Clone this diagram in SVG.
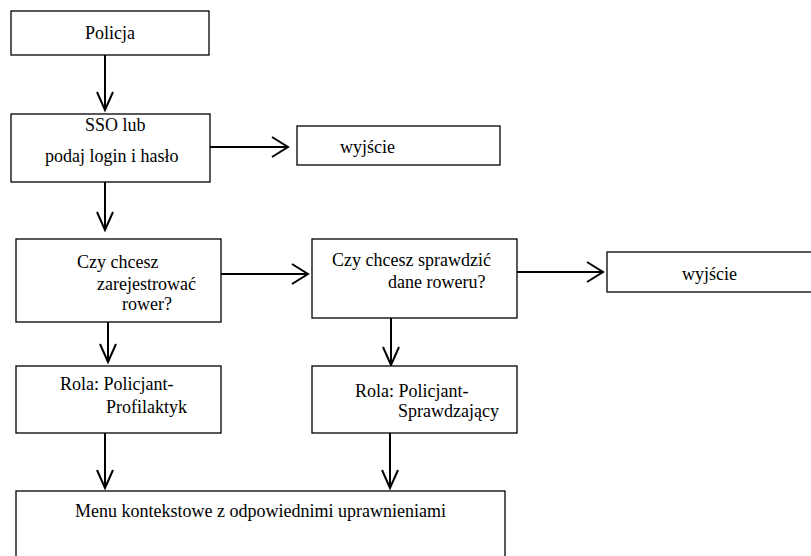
<svg xmlns="http://www.w3.org/2000/svg" width="811" height="556" viewBox="0 0 811 556">
<style>
.box{fill:#fff;stroke:#000;stroke-width:1.3}
.c{fill:none;stroke:#000;stroke-width:2}
</style>
<rect width="811" height="556" fill="#fff"/>
<g id="connectors">
<path class="c" d="M105,55V110M97,92L105,110L113,92"/>
<path class="c" d="M205,147H288M272,137L288,147L272,157"/>
<path class="c" d="M105,182V230M97,212L105,230L113,212"/>
<path class="c" d="M221,274H308M292,264L308,274L292,284"/>
<path class="c" d="M517,272H603M587,262L603,272L587,282"/>
<path class="c" d="M108,307V362M100,344L108,362L116,344"/>
<path class="c" d="M391,318V365M383,347L391,365L399,347"/>
<path class="c" d="M105,433V488M97,470L105,488L113,470"/>
<path class="c" d="M390,433V488M382,470L390,488L398,470"/>
</g>
<g font-family="Liberation Serif, DejaVu Serif, serif" font-size="18" fill="#000">
<g id="policja"><rect class="box" x="11" y="11" width="198" height="44"/><text x="85" y="39">Policja</text></g>
<g id="sso"><rect class="box" x="11" y="114" width="199" height="68"/><text x="85" y="131">SSO lub</text><text x="45" y="162">podaj login i hasło</text></g>
<g id="wyjscie1"><rect class="box" x="297" y="126" width="203" height="39"/><text x="340" y="153">wyjście</text></g>
<g id="rejestracja"><rect class="box" x="16" y="239" width="205" height="83"/><text x="77" y="268">Czy chcesz</text><text x="97" y="290">zarejestrować</text><text x="122" y="310">rower?</text></g>
<g id="sprawdzenie"><rect class="box" x="312" y="239" width="205" height="79"/><text x="332" y="266">Czy chcesz sprawdzić</text><text x="388" y="288">dane roweru?</text></g>
<g id="wyjscie2"><rect class="box" x="607" y="252" width="210" height="40"/><text x="682" y="280">wyjście</text></g>
<g id="profilaktyk"><rect class="box" x="16" y="366" width="205" height="67"/><text x="60" y="390">Rola: Policjant-</text><text x="106" y="413">Profilaktyk</text></g>
<g id="sprawdzajacy"><rect class="box" x="312" y="366" width="205" height="67"/><text x="355" y="397">Rola: Policjant-</text><text x="398" y="417">Sprawdzający</text></g>
<g id="menu"><rect class="box" x="16" y="491" width="489" height="80"/><text x="75" y="517">Menu kontekstowe z odpowiednimi uprawnieniami</text></g>
</g>
</svg>
